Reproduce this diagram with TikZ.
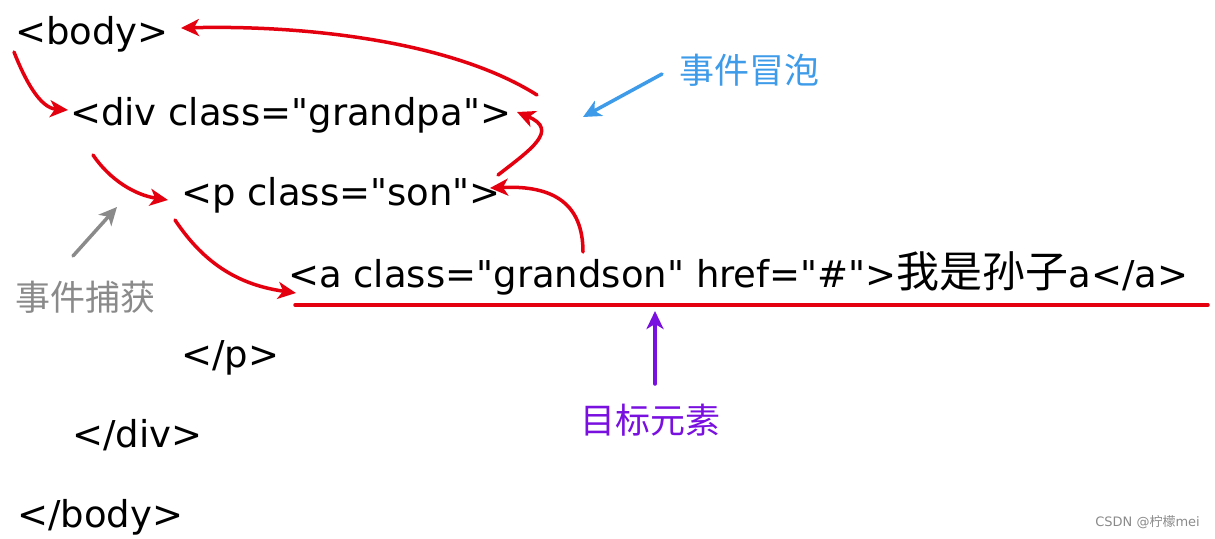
\documentclass[tikz,border=0pt]{standalone}
\usepackage{fontspec}
\setmainfont{DejaVu Sans}[Ligatures=TeXOff]
\newfontfamily\cjk{Noto Sans CJK SC}
\usetikzlibrary{arrows.meta}
\definecolor{redA}{HTML}{E5000F}
\definecolor{blueA}{HTML}{3D9BE9}
\definecolor{purpA}{HTML}{7A10E0}
\definecolor{grayA}{HTML}{8A8A8A}
\tikzset{
  code/.style={anchor=base west, inner sep=0pt, font=\fontsize{37}{40}\selectfont},
  lbl/.style={anchor=center, inner sep=0pt, font=\cjk\fontsize{35}{38}\selectfont},
  redarrow/.style={draw=redA, line width=3.5pt, line cap=round, -{Stealth[length=18pt,width=17pt,inset=5pt]}},
  plainarrow/.style={line width=3.5pt, line cap=round, -{Stealth[length=18pt,width=17pt,inset=5pt]}}
}
\begin{document}
\begin{tikzpicture}[x=1pt,y=-1pt]
\useasboundingbox (0,0) rectangle (1215,538);
% code lines
\node[code] (body) at (15,44) {<body>};
\node[code] (div) at (70,125) {<div class="grandpa">};
\node[code] (p) at (181,205) {<p class="son">};
\node[code] (a) at (288,287) {<a class="grandson" href="\#">{\cjk\fontsize{43}{43}\selectfont 我是孙子}a</a>};
\node[code] (cp) at (181,367) {</p>};
\node[code] (cdiv) at (72,447) {</div>};
\node[code] (cbody) at (17,527) {</body>};
% labels
\node[lbl, text=blueA] (bubble) at (749,70) {事件冒泡};
\node[lbl, text=grayA] (capture) at (86,297) {事件捕获};
\node[lbl, text=purpA] (target) at (650,420) {目标元素};
\node[anchor=east, inner sep=0pt, text=grayA, font=\fontsize{13}{15}\selectfont] (csdn) at (1200,522) {CSDN @{\cjk 柠檬}mei};
% coordinates
\coordinate (c1s) at (14,52);
\coordinate (c1e) at (68,110);
\coordinate (c2s) at (93,155);
\coordinate (c2e) at (168,200);
\coordinate (c3s) at (175,220);
\coordinate (c3e) at (296,293);
\coordinate (b1s) at (583,252);
\coordinate (b1e) at (490,188);
\coordinate (b2s) at (498,175);
\coordinate (b2e) at (517,112);
\coordinate (b3s) at (537,95);
\coordinate (b3e) at (181,28);
\coordinate (ulS) at (295,305);
\coordinate (ulE) at (1208,305);
% capture arrows
\draw[redarrow] (c1s) .. controls (25,80) and (40,108) .. (c1e);
\draw[redarrow] (c2s) .. controls (110,180) and (135,195) .. (c2e);
\draw[redarrow] (c3s) .. controls (205,265) and (240,285) .. (c3e);
% bubbling arrows
\draw[redarrow] (b1s) .. controls (583,205) and (555,185) .. (b1e);
\draw[redarrow] (b2s) .. controls (530,150) and (560,130) .. (b2e);
\draw[redarrow] (b3s) .. controls (450,40) and (300,25) .. (b3e);
% underline
\draw[draw=redA, line width=3.5pt, line cap=round] (ulS) -- (ulE);
% label arrows
\draw[plainarrow, draw=blueA] (662,74) -- (583,117);
\draw[plainarrow, draw=grayA] (73,256) -- (117,207);
\draw[plainarrow, draw=purpA] (655,384) -- (655,311);
\end{tikzpicture}
\end{document}
